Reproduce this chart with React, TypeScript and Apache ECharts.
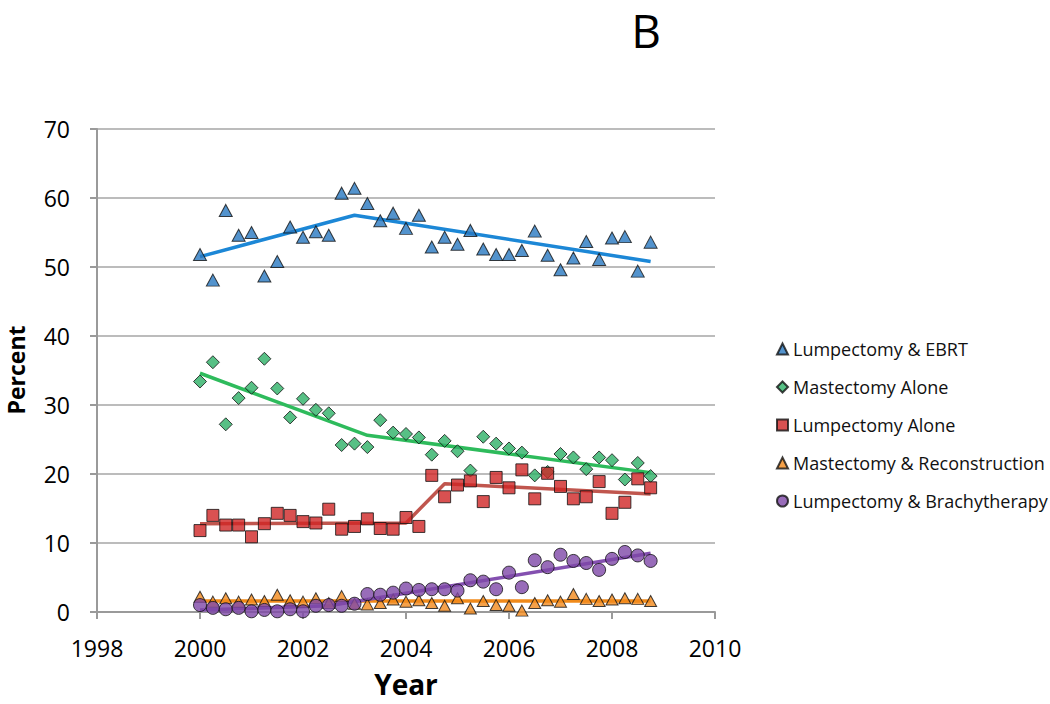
import React, { useEffect, useRef } from "react";
import * as echarts from "echarts";

const quarters = [
  2000, 2000.25, 2000.5, 2000.75, 2001, 2001.25, 2001.5, 2001.75,
  2002, 2002.25, 2002.5, 2002.75, 2003, 2003.25, 2003.5, 2003.75,
  2004, 2004.25, 2004.5, 2004.75, 2005, 2005.25, 2005.5, 2005.75,
  2006, 2006.25, 2006.5, 2006.75, 2007, 2007.25, 2007.5, 2007.75,
  2008, 2008.25, 2008.5, 2008.75,
];

const lumpEbrt = [
  51.8, 48.1, 58.2, 54.6, 55.0, 48.7, 50.8, 55.8,
  54.3, 55.1, 54.6, 60.7, 61.4, 59.2, 56.7, 57.8,
  55.6, 57.5, 52.9, 54.3, 53.3, 55.3, 52.6, 51.8,
  51.8, 52.4, 55.2, 51.7, 49.6, 51.3, 53.7, 51.1,
  54.2, 54.4, 49.4, 53.6,
];
const mastAlone = [
  33.4, 36.2, 27.2, 31.0, 32.5, 36.7, 32.4, 28.2,
  30.9, 29.3, 28.8, 24.2, 24.4, 23.9, 27.8, 26.0,
  25.8, 25.3, 22.8, 24.8, 23.3, 20.5, 25.4, 24.4,
  23.7, 23.1, 19.8, 20.3, 22.9, 22.4, 20.7, 22.4,
  22.0, 19.2, 21.6, 19.7,
];
const lumpAlone = [
  11.8, 14.0, 12.6, 12.6, 10.9, 12.8, 14.3, 14.0,
  13.1, 12.9, 14.9, 12.0, 12.4, 13.5, 12.1, 12.0,
  13.7, 12.4, 19.8, 16.7, 18.4, 19.0, 16.0, 19.5,
  18.0, 20.6, 16.4, 20.1, 18.2, 16.4, 16.7, 18.9,
  14.3, 15.9, 19.3, 18.0,
];
const mastRecon = [
  2.2, 1.5, 2.0, 1.5, 1.8, 1.6, 2.5, 1.7,
  1.5, 2.0, 1.3, 2.3, 1.2, 1.1, 1.3, 1.8,
  1.5, 1.7, 1.3, 0.9, 2.0, 0.5, 1.6, 1.0,
  0.9, 0.2, 1.3, 1.7, 1.5, 2.6, 1.9, 1.6,
  1.8, 2.0, 1.9, 1.6,
];
const lumpBrachy = [
  1.0, 0.6, 0.4, 0.6, 0.1, 0.3, 0.1, 0.4,
  0.1, 0.9, 1.0, 0.9, 1.2, 2.6, 2.5, 2.8,
  3.4, 3.2, 3.3, 3.3, 3.1, 4.6, 4.4, 3.3,
  5.7, 3.6, 7.5, 6.5, 8.3, 7.4, 7.1, 6.1,
  7.7, 8.7, 8.2, 7.4,
];

// joinpoint trend lines
const ebrtTrendX = [2000, 2003, 2008.75];
const ebrtTrendY = [51.5, 57.5, 50.8];
const mastTrendX = [2000, 2003.25, 2008.75];
const mastTrendY = [34.6, 25.6, 20.2];
const lumpTrendX = [2000, 2004, 2004.75, 2008.75];
const lumpTrendY = [12.8, 12.9, 18.6, 17.1];
const reconTrendX = [2000, 2008.75];
const reconTrendY = [1.6, 1.6];
const brachyTrendX = [2000, 2002.5, 2008.75];
const brachyTrendY = [0.3, 0.9, 8.5];

const seriesNames = [
  "Lumpectomy & EBRT",
  "Mastectomy Alone",
  "Lumpectomy Alone",
  "Mastectomy & Reconstruction",
  "Lumpectomy & Brachytherapy",
];

const FONT = "Open Sans";

function zip(xs: number[], ys: number[]) {
  return xs.map((x, i) => [x, ys[i]]);
}

export default function App() {
  const ref = useRef<HTMLDivElement>(null);
  useEffect(() => {
    if (!ref.current) return;
    const chart = echarts.init(ref.current, null, { renderer: "svg" });

    const markerDefs = [
      { data: lumpEbrt, symbol: "triangle", size: [13, 12], color: "#2878C0", trendX: ebrtTrendX, trendY: ebrtTrendY, line: "#1C87D6" },
      { data: mastAlone, symbol: "diamond", size: [13, 13], color: "#2DB067", trendX: mastTrendX, trendY: mastTrendY, line: "#2EBB5C" },
      { data: lumpAlone, symbol: "rect", size: [12, 12], color: "#D02626", trendX: lumpTrendX, trendY: lumpTrendY, line: "#C0564E" },
      { data: mastRecon, symbol: "triangle", size: [12, 11], color: "#F38A1C", trendX: reconTrendX, trendY: reconTrendY, line: "#F08A1A" },
      { data: lumpBrachy, symbol: "circle", size: 13, color: "#7E47A8", trendX: brachyTrendX, trendY: brachyTrendY, line: "#8450B0" },
    ];

    const series: any[] = [];
    markerDefs.forEach((d, i) => {
      series.push({
        name: "trend" + i,
        type: "line",
        data: zip(d.trendX, d.trendY),
        showSymbol: false,
        symbol: "none",
        lineStyle: { color: d.line, width: 3.5 },
        z: 2,
        silent: true,
      });
    });
    markerDefs.forEach((d, i) => {
      series.push({
        name: seriesNames[i],
        type: "scatter",
        data: zip(quarters, d.data),
        symbol: d.symbol,
        symbolSize: d.size,
        itemStyle: { color: d.color, borderColor: "#111", borderWidth: 1 },
        z: 3 + i,
      });
    });

    chart.setOption({
      animation: false,
      backgroundColor: "#ffffff",
      textStyle: { fontFamily: FONT },
      grid: { left: 97, right: 335, top: 129, bottom: 92, containLabel: false },
      legend: {
        data: seriesNames.map((n) => ({ name: n })),
        orient: "vertical",
        left: 771,
        top: 333,
        itemWidth: 11,
        itemHeight: 11,
        itemGap: 16,
        textStyle: { fontFamily: FONT, fontSize: 18, color: "#111", lineHeight: 22 },
        selectedMode: false,
      },
      xAxis: {
        type: "value",
        min: 1998,
        max: 2010,
        interval: 2,
        axisLine: { show: true, onZero: false, lineStyle: { color: "#9a9a9a", width: 2 } },
        axisTick: { show: true, length: 7, inside: false, lineStyle: { color: "#9a9a9a", width: 2 } },
        axisLabel: { fontFamily: FONT, fontSize: 23, color: "#000", margin: 24, formatter: (v: number) => String(v) },
        splitLine: { show: false },
      },
      yAxis: {
        type: "value",
        min: 0,
        max: 70,
        interval: 10,
        axisLine: { show: true, lineStyle: { color: "#9a9a9a", width: 2 } },
        axisTick: { show: true, length: 7, lineStyle: { color: "#9a9a9a", width: 2 } },
        axisLabel: { fontFamily: FONT, fontSize: 23, color: "#000", margin: 27 },
        splitLine: { show: true, lineStyle: { color: "#a6a6a6", width: 1.5 } },
      },
      graphic: [
        {
          type: "text",
          x: 646,
          y: 30,
          style: { text: "B", fontFamily: FONT, fontSize: 46, lineHeight: 46, fill: "#000", align: "center", verticalAlign: "middle" },
        },
        {
          type: "text",
          x: 406,
          y: 684,
          style: { text: "Year", fontFamily: FONT, fontSize: 28, lineHeight: 30, fontWeight: "bold", fill: "#000", align: "center", verticalAlign: "middle" },
        },
        {
          type: "text",
          x: 16,
          y: 370,
          rotation: Math.PI / 2,
          style: { text: "Percent", fontFamily: FONT, fontSize: 23, lineHeight: 26, fontWeight: "bold", fill: "#000", align: "center", verticalAlign: "middle" },
        },
      ],
      series,
    });
    return () => chart.dispose();
  }, []);
  return <div ref={ref} style={{ position: "absolute", left: 0, top: 0, width: 1050, height: 704 }} />;
}
